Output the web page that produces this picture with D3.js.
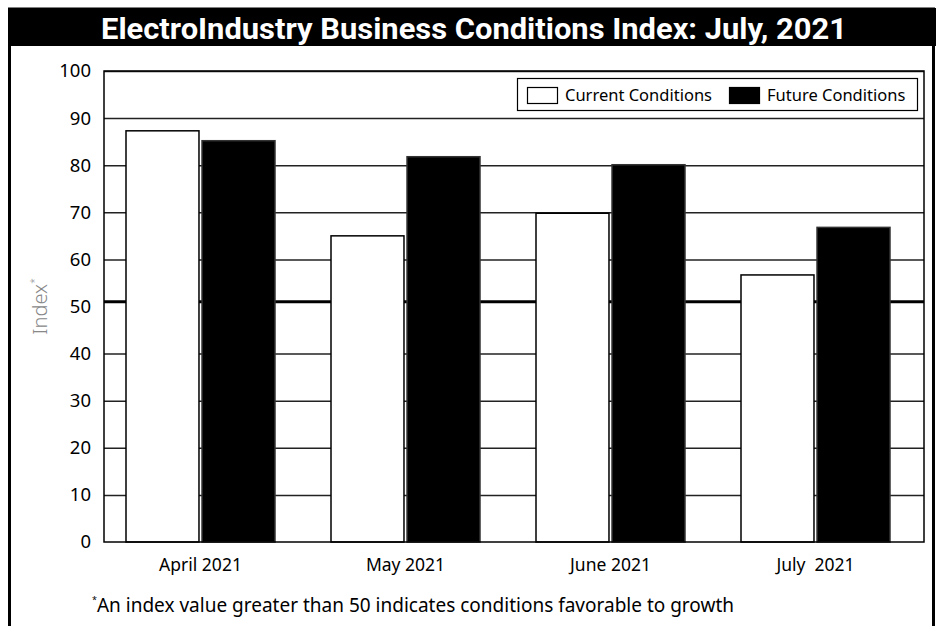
<!DOCTYPE html>
<html>
<head>
<meta charset="utf-8">
<script src="https://cdn.jsdelivr.net/npm/d3@7"></script>
<style>
  body { margin: 0; background: #fff; }
  text { font-family: "Noto Sans", "Open Sans", sans-serif; }
</style>
</head>
<body>
<div id="chart"></div>
<script>
let categories = ["April 2021", "May 2021", "June 2021", "July\u00a0 2021"];
let seriesNames = ["Current Conditions", "Future Conditions"];
let currentValues = [87.3, 65.0, 69.8, 56.7];
let futureValues = [85.2, 81.8, 80.1, 66.8];
let yTicks = [0, 10, 20, 30, 40, 50, 60, 70, 80, 90, 100];
let threshold = 51;

let width = 938, height = 626;
let margin = {top: 71, right: 14, bottom: 84, left: 104};
let plotW = width - margin.left - margin.right,
    plotH = height - margin.top - margin.bottom;

let svg = d3.select("#chart").append("svg")
    .attr("width", width)
    .attr("height", height);

// outer frame + title bar
svg.append("rect")
    .attr("x", 9.5).attr("y", 9).attr("width", 924).attr("height", 640)
    .attr("fill", "none").attr("stroke", "#000").attr("stroke-width", 3);
svg.append("rect")
    .attr("x", 8).attr("y", 8).attr("width", 928).attr("height", 38)
    .attr("fill", "#000");
svg.append("text")
    .attr("x", 474).attr("y", 39)
    .attr("text-anchor", "middle")
    .attr("fill", "#fff")
    .attr("textLength", 746)
    .attr("lengthAdjust", "spacingAndGlyphs")
    .style("font-family", "Roboto, sans-serif")
    .style("font-weight", "700")
    .style("font-size", "29px")
    .text("ElectroIndustry Business Conditions Index: July, 2021");

let g = svg.append("g")
    .attr("transform", "translate(" + margin.left + "," + margin.top + ")");

let x0 = d3.scaleBand().domain(categories).range([0, plotW]);
let x1 = d3.scaleBand().domain(seriesNames).range([22, 171]).paddingInner(0.04);
let y = d3.scaleLinear().domain([0, 100]).range([plotH, 0]);

// gridlines
g.append("g")
    .call(d3.axisLeft(y).tickValues(yTicks.filter(d => d !== 50 && d !== 0)).tickSize(-plotW).tickFormat(""))
    .call(s => s.select(".domain").remove())
    .call(s => s.selectAll("line").attr("stroke", "#222").attr("stroke-width", 1.5));

// threshold line
g.append("line")
    .attr("x1", 0).attr("x2", plotW)
    .attr("y1", y(threshold)).attr("y2", y(threshold))
    .attr("stroke", "#000").attr("stroke-width", 3);

let rows = categories.map((c, i) => ({cat: c, values: [
    {key: seriesNames[0], value: currentValues[i]},
    {key: seriesNames[1], value: futureValues[i]}
]}));

g.selectAll(".grp")
    .data(rows)
    .enter().append("g")
    .attr("transform", d => "translate(" + x0(d.cat) + ",0)")
    .selectAll("rect")
    .data(d => d.values)
    .enter().append("rect")
    .attr("x", d => x1(d.key))
    .attr("width", x1.bandwidth())
    .attr("y", d => y(d.value))
    .attr("height", d => plotH - y(d.value))
    .attr("fill", d => d.key === seriesNames[0] ? "#fff" : "#000")
    .attr("stroke", d => d.key === seriesNames[0] ? "#000" : "#333")
    .attr("stroke-width", 1.5);

// plot frame
g.append("rect")
    .attr("x", 0).attr("y", 0).attr("width", plotW).attr("height", plotH)
    .attr("fill", "none").attr("stroke", "#000").attr("stroke-width", 1.5);

// y axis labels
let yAxis = g.append("g")
    .call(d3.axisLeft(y).tickValues(yTicks).tickSize(0).tickPadding(13));
yAxis.select(".domain").remove();
yAxis.selectAll("text")
    .style("font-family", "\"Noto Sans\", sans-serif")
    .style("font-size", "18.5px")
    .attr("fill", "#000");

// x axis labels
let xAxis = g.append("g")
    .attr("transform", "translate(0," + plotH + ")")
    .call(d3.axisBottom(x0).tickSize(0).tickPadding(17));
xAxis.select(".domain").remove();
xAxis.selectAll("text")
    .attr("dx", "-6px")
    .style("font-family", "\"Noto Sans\", sans-serif")
    .style("font-size", "17.5px")
    .attr("fill", "#000");

// y axis title
let yt = svg.append("text")
    .attr("transform", "translate(47," + (margin.top + y(50)) + ") rotate(-90)")
    .attr("text-anchor", "middle")
    .attr("fill", "#888")
    .style("font-size", "20px")
    .style("font-weight", "300");
yt.append("tspan").text("Index");
yt.append("tspan").attr("dy", "-9").style("font-size", "10px").text("*");

// legend
let legend = svg.append("g");
legend.append("rect")
    .attr("x", 517.5).attr("y", 78.5).attr("width", 400).attr("height", 32)
    .attr("fill", "#fff").attr("stroke", "#000").attr("stroke-width", 1.2);
let legX = [527, 729];
seriesNames.forEach((name, i) => {
    legend.append("rect")
        .attr("x", legX[i] + 0.5).attr("y", 87.5).attr("width", 30).attr("height", 16)
        .attr("fill", i === 0 ? "#fff" : "#000")
        .attr("stroke", "#000").attr("stroke-width", 1.2);
    legend.append("text")
        .attr("x", legX[i] + 38).attr("y", 101)
        .attr("fill", "#000")
        .style("font-size", "16.5px")
        .text(name);
});

// footnote
let fn = svg.append("text")
    .attr("x", 92).attr("y", 612)
    .attr("fill", "#000")
    .style("font-size", "19px");
fn.append("tspan").attr("dy", "-9").style("font-size", "9px").text("*");
fn.append("tspan").attr("dy", "9").text("An index value greater than 50 indicates conditions favorable to growth");
</script>
</body>
</html>
